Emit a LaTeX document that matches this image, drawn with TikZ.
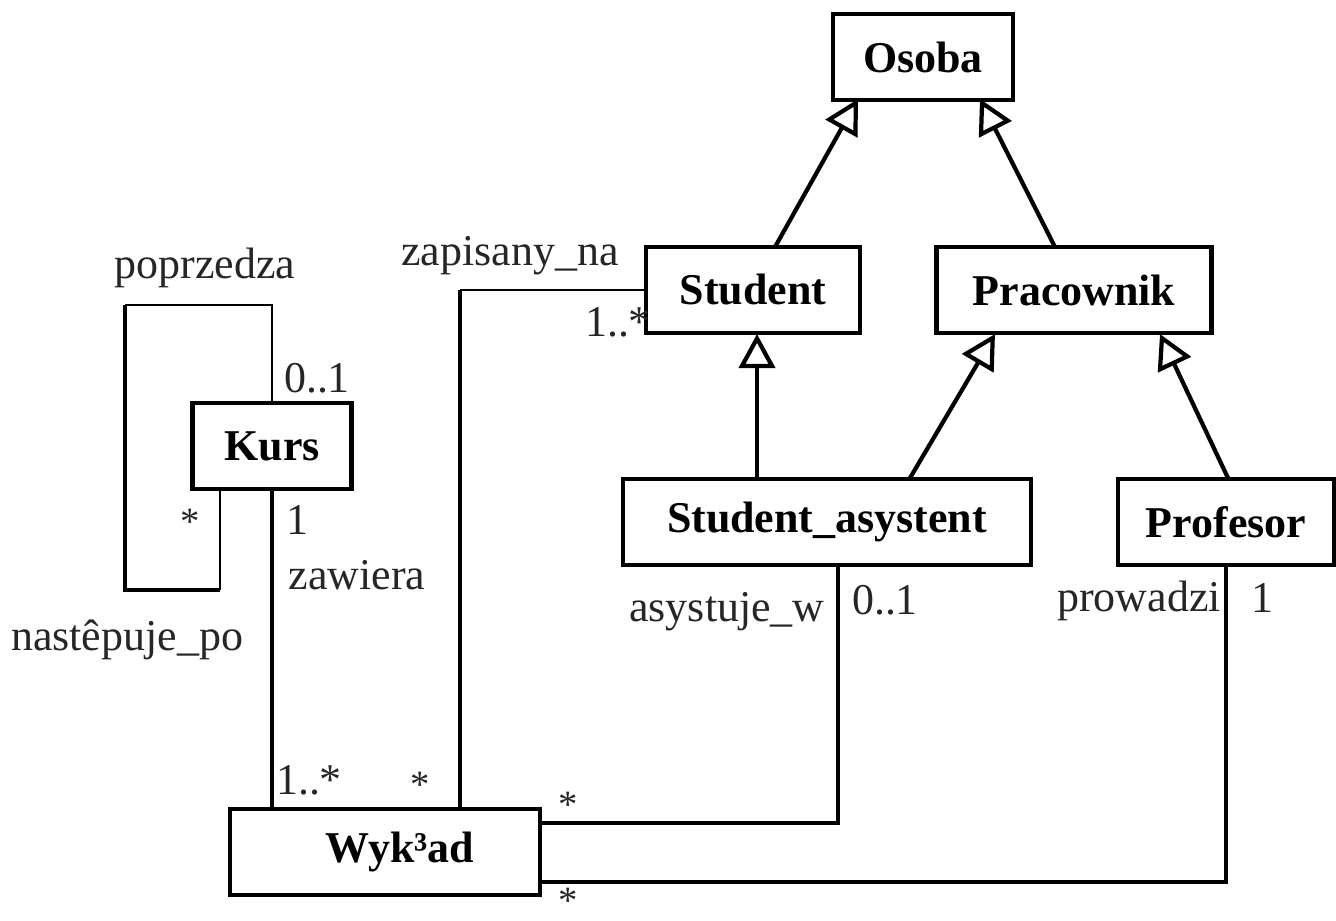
\documentclass[tikz,border=0pt]{standalone}
\usepackage{fontspec}
\setmainfont{Liberation Serif}
\usetikzlibrary{arrows.meta}

\tikzset{
  klasa/.style={draw, line width=1.2pt, minimum height=8.6mm, inner sep=0pt,
                font=\fontsize{12.5}{15}\selectfont\bfseries},
  etyk/.style={inner sep=0pt, text=black!85, font=\fontsize{12.5}{14}\selectfont},
  gwiazdka/.style={etyk, font=\fontsize{11}{12}\selectfont},
  gruba/.style={line width=1.2pt},
  cienka/.style={line width=0.6pt},
  gen/.style={line width=1.2pt, -{Triangle[open, length=3.4mm, width=3.6mm, line width=1.2pt]}}
}

\begin{document}
\begin{tikzpicture}[x=0.01cm, y=-0.01cm]
\useasboundingbox (0,0) rectangle (1336,921);
%
             \node [klasa, minimum width=18mm] at (923,57) (osoba) {Osoba};
             \node [klasa, minimum width=21.4mm] at (753,290) (student) {Student};
             \node [klasa, minimum width=27.5mm] at (1074,290) (pracownik) {Pracownik};
             \node [klasa, minimum width=15.9mm] at (272,446) (kurs) {Kurs};
             \node [klasa, minimum width=40.7mm] at (827,522) (sasyst) {Student\_asystent};
             \node [klasa, minimum width=21.6mm] at (1226,522) (profesor) {Profesor};
             \node [klasa, minimum width=31mm] at (385,852) (wyklad) {\hspace{3mm}Wyk³ad};
%
             \coordinate (os1) at (858,99);
             \coordinate (os2) at (980,99);
             \coordinate (st1) at (775,247);
             \coordinate (st2) at (757,334);
             \coordinate (sa1) at (757,478);
             \coordinate (sa2) at (910,478);
             \coordinate (pr1) at (995,334);
             \coordinate (pr2) at (1160,334);
             \coordinate (pf1) at (1228,478);
             \coordinate (pr3) at (1055,247);
%
             \coordinate (p1) at (272,305);
             \coordinate (p2) at (125,305);
             \coordinate (p3) at (125,590);
             \coordinate (p4) at (220,590);
             \coordinate (kurs loop) at (220,490);
             \coordinate (wyk z) at (460,808);
             \coordinate (sa dol) at (838,566);
             \coordinate (wyk a) at (540,823);
             \coordinate (prof dol) at (1226,566);
             \coordinate (wyk p) at (540,882);
%
             \node [etyk] at (205,268) (poprzedza) {poprzedza};
             \node [etyk] at (317,378) (k01) {0..1};
             \node [gwiazdka] at (190,522) (kgw) {*};
             \node [etyk] at (297,520) (k1) {1};
             \node [etyk] at (357,575) (zawiera) {zawiera};
             \node [etyk] at (127,640) (nastepuje) {nastêpuje\_po};
             \node [etyk] at (309,780) (w1n) {1..*};
             \node [gwiazdka] at (420,785) (wgw1) {*};
             \node [etyk] at (510,256) (zapisany) {zapisany\_na};
             \node [etyk] at (618,322) (s1n) {1..*};
             \node [gwiazdka] at (568,805) (wgw2) {*};
             \node [gwiazdka] at (568,901) (wgw3) {*};
             \node [etyk] at (727,612) (asystuje) {asystuje\_w};
             \node [etyk] at (885,600) (sa01) {0..1};
             \node [etyk] at (1139,601) (prowadzi) {prowadzi};
             \node [etyk] at (1262,598) (pf1n) {1};
%
\draw[gen] (st1) -- (os1);
\draw[gen] (pr3) -- (os2);
\draw[gen] (sa1) -- (st2);
\draw[gen] (sa2) -- (pr1);
\draw[gen] (pf1) -- (pr2);
%
\draw[cienka] (kurs.north) -- (p1) -- (p2);
\draw[gruba] (p2) -- (p3) -- (p4);
\draw[cienka] (p4) -- (kurs loop);
\draw[gruba] (kurs.south) -- (kurs.south |- wyklad.north);
\draw[cienka] (student.west) -- (student.west -| wyk z);
\draw[gruba] (student.west -| wyk z) -- (wyk z);
\draw[gruba] (sa dol) |- (wyk a);
\draw[gruba] (prof dol) |- (wyk p);
\end{tikzpicture}
\end{document}
